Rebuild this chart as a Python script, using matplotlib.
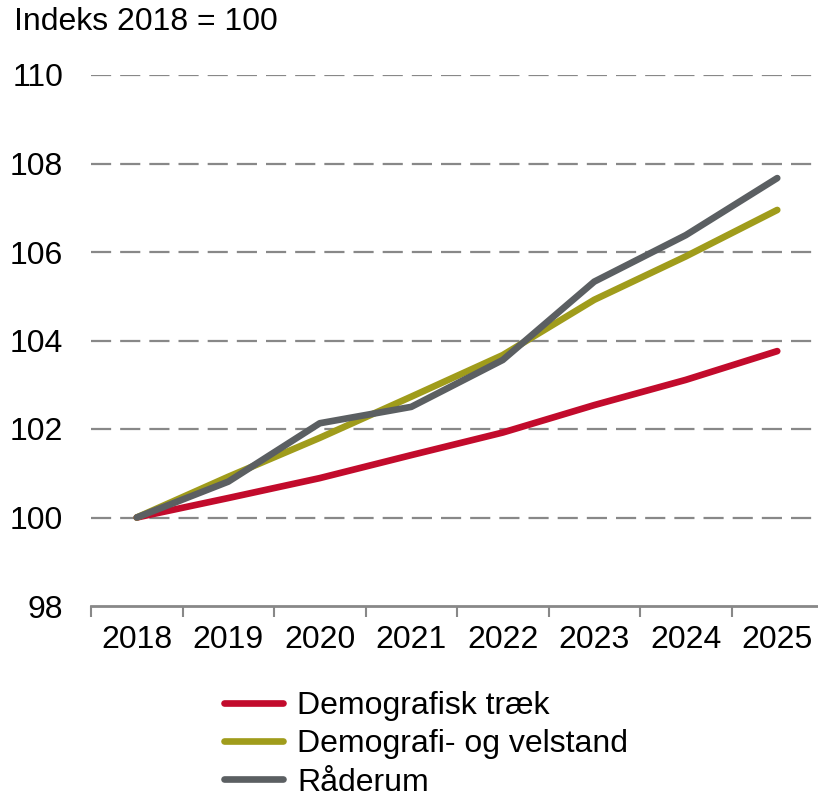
import matplotlib
matplotlib.use("Agg")
import matplotlib.pyplot as plt
from matplotlib.lines import Line2D

plt.rcParams['font.family'] = ['Liberation Sans', 'DejaVu Sans']
plt.rcParams['lines.scale_dashes'] = False

years = ["2018", "2019", "2020", "2021", "2022", "2023", "2024", "2025"]
demografisk = [100.0, 100.44, 100.89, 101.41, 101.92, 102.54, 103.11, 103.76]
velstand = [100.0, 100.92, 101.8, 102.73, 103.67, 104.92, 105.9, 106.95]
raaderum = [100.0, 100.81, 102.13, 102.5, 103.56, 105.33, 106.38, 107.67]
series_names = ["Demografisk træk", "Demografi- og velstand", "Råderum"]
colors = ["#C20B2C", "#A09C1B", "#5B5F62"]
yticks = [98, 100, 102, 104, 106, 108, 110]

FS = 23
W, H = 818, 799
fig = plt.figure(figsize=(W / 100, H / 100), dpi=100)
ax = fig.add_axes([91 / W, (H - 606) / H, (823 - 91) / W, (606 - 75) / H])

x = list(range(len(years)))
for vals, c in zip([demografisk, velstand, raaderum], colors):
    ax.plot(x, vals, color=c, lw=4.8, solid_capstyle='round', solid_joinstyle='round')

ax.set_ylim(98, 110)
ax.set_xlim(-0.5, len(years) - 0.5)
ax.set_yticks(yticks)
ax.set_yticklabels([str(v) for v in yticks], fontsize=FS)
ax.set_xticks(x)
ax.set_xticklabels(years, fontsize=FS)
ax.set_xticks([i - 0.5 for i in range(len(years) + 1)], minor=True)
ax.tick_params(axis='x', which='major', length=0, pad=14)
ax.tick_params(axis='x', which='minor', length=8, width=1.5, color='#888888', direction='out')
ax.tick_params(axis='y', length=0, pad=20)

for v in yticks[1:]:
    ax.axhline(v, color='#888888', lw=1.6, linestyle=(0, (14.5, 6.5)), zorder=0)

for s in ['top', 'right', 'left']:
    ax.spines[s].set_visible(False)
ax.spines['bottom'].set_color('#888888')
ax.spines['bottom'].set_linewidth(2)

fig.text(14 / W, (H - 22) / H, "Indeks 2018 = 100", fontsize=FS, va='center', ha='left')

handles = [Line2D([0], [0], color=c, lw=4.8, solid_capstyle='round') for c in colors]
fig.legend(handles, series_names, loc='upper left', bbox_to_anchor=(224 / W, (H - 691) / H),
           frameon=False, fontsize=FS, handlelength=1.85, handletextpad=0.45,
           labelspacing=0.26, borderpad=0, borderaxespad=0)

fig.savefig("out.png", dpi=100)
